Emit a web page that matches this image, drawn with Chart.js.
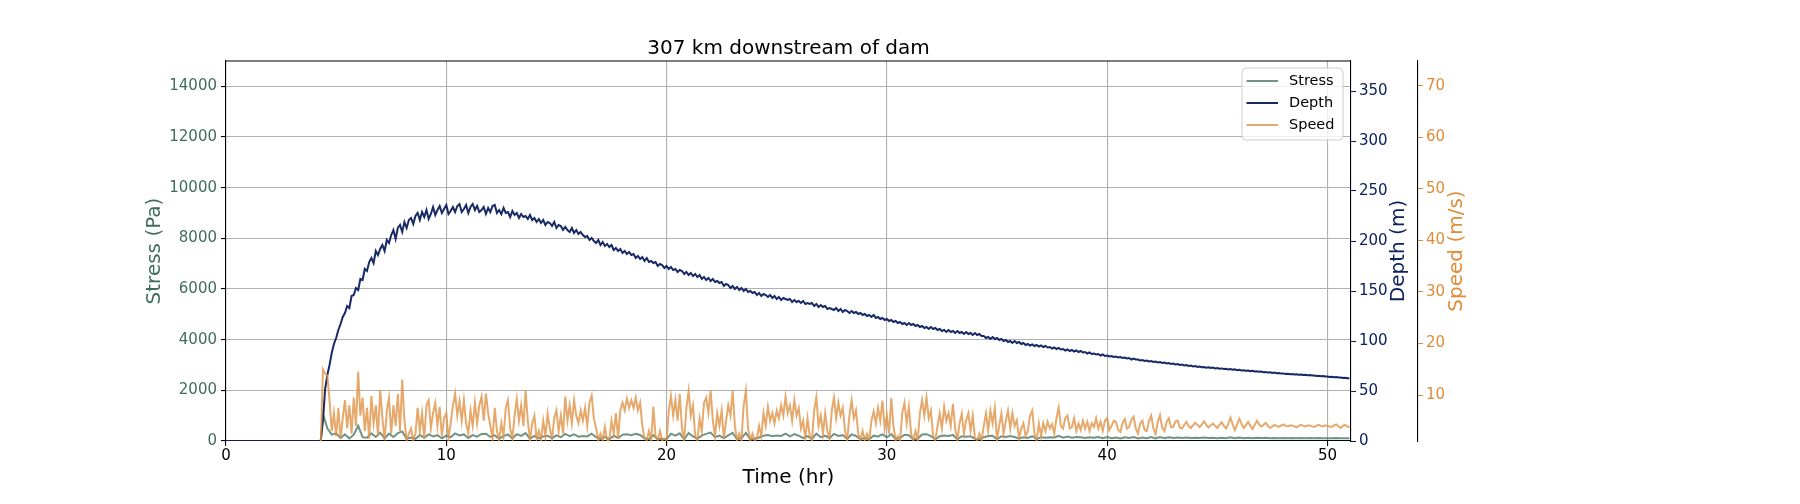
<!DOCTYPE html>
<html>
<head>
<meta charset="utf-8">
<title>307 km downstream of dam</title>
<script src="https://cdn.jsdelivr.net/npm/chart.js@4.4.1/dist/chart.umd.min.js"></script>
<style>
  html, body { margin: 0; padding: 0; background: #fff; }
  #wrap { width: 1800px; height: 504px; }
</style>
</head>
<body>
<div id="wrap"><canvas id="chart" width="1800" height="504"></canvas></div>
<script>
// sample times (hr) for depth and speed
const hours = [
  0, 4.3,
  4.4, 4.5, 4.6, 4.7, 4.8, 4.9, 5.0, 5.1, 5.2, 5.3,
  5.4, 5.5, 5.6, 5.7, 5.8, 5.9, 6.0, 6.1, 6.2, 6.3,
  6.4, 6.5, 6.6, 6.7, 6.8, 6.9, 7.0, 7.1, 7.2, 7.3,
  7.4, 7.5, 7.6, 7.7, 7.8, 7.9, 8.0, 8.1, 8.2, 8.3,
  8.4, 8.5, 8.6, 8.7, 8.8, 8.9, 9.0, 9.1, 9.2, 9.3,
  9.4, 9.5, 9.6, 9.7, 9.8, 9.9, 10.0, 10.1, 10.2, 10.3,
  10.4, 10.5, 10.6, 10.7, 10.8, 10.9, 11.0, 11.1, 11.2, 11.3,
  11.4, 11.5, 11.6, 11.7, 11.8, 11.9, 12.0, 12.1, 12.2, 12.3,
  12.4, 12.5, 12.6, 12.7, 12.8, 12.9, 13.0, 13.1, 13.2, 13.3,
  13.4, 13.5, 13.6, 13.7, 13.8, 13.9, 14.0, 14.1, 14.2, 14.3,
  14.4, 14.5, 14.6, 14.7, 14.8, 14.9, 15.0, 15.1, 15.2, 15.3,
  15.4, 15.5, 15.6, 15.7, 15.8, 15.9, 16.0, 16.1, 16.2, 16.3,
  16.4, 16.5, 16.6, 16.7, 16.8, 16.9, 17.0, 17.1, 17.2, 17.3,
  17.4, 17.5, 17.6, 17.7, 17.8, 17.9, 18.0, 18.1, 18.2, 18.3,
  18.4, 18.5, 18.6, 18.7, 18.8, 18.9, 19.0, 19.1, 19.2, 19.3,
  19.4, 19.5, 19.6, 19.7, 19.8, 19.9, 20.0, 20.1, 20.2, 20.3,
  20.4, 20.5, 20.6, 20.7, 20.8, 20.9, 21.0, 21.1, 21.2, 21.3,
  21.4, 21.5, 21.6, 21.7, 21.8, 21.9, 22.0, 22.1, 22.2, 22.3,
  22.4, 22.5, 22.6, 22.7, 22.8, 22.9, 23.0, 23.1, 23.2, 23.3,
  23.4, 23.5, 23.6, 23.7, 23.8, 23.9, 24.0, 24.1, 24.2, 24.3,
  24.4, 24.5, 24.6, 24.7, 24.8, 24.9, 25.0, 25.1, 25.2, 25.3,
  25.4, 25.5, 25.6, 25.7, 25.8, 25.9, 26.0, 26.1, 26.2, 26.3,
  26.4, 26.5, 26.6, 26.7, 26.8, 26.9, 27.0, 27.1, 27.2, 27.3,
  27.4, 27.5, 27.6, 27.7, 27.8, 27.9, 28.0, 28.1, 28.2, 28.3,
  28.4, 28.5, 28.6, 28.7, 28.8, 28.9, 29.0, 29.1, 29.2, 29.3,
  29.4, 29.5, 29.6, 29.7, 29.8, 29.9, 30.0, 30.1, 30.2, 30.3,
  30.4, 30.5, 30.6, 30.7, 30.8, 30.9, 31.0, 31.1, 31.2, 31.3,
  31.4, 31.5, 31.6, 31.7, 31.8, 31.9, 32.0, 32.1, 32.2, 32.3,
  32.4, 32.5, 32.6, 32.7, 32.8, 32.9, 33.0, 33.1, 33.2, 33.3,
  33.4, 33.5, 33.6, 33.7, 33.8, 33.9, 34.0, 34.1, 34.2, 34.3,
  34.4, 34.5, 34.6, 34.7, 34.8, 34.9, 35.0, 35.1, 35.2, 35.3,
  35.4, 35.5, 35.6, 35.7, 35.8, 35.9, 36.0, 36.1, 36.2, 36.3,
  36.4, 36.5, 36.6, 36.7, 36.8, 36.9, 37.0, 37.1, 37.2, 37.3,
  37.4, 37.5, 37.6, 37.7, 37.8, 37.9, 38.0, 38.1, 38.2, 38.3,
  38.4, 38.5, 38.6, 38.7, 38.8, 38.9, 39.0, 39.1, 39.2, 39.3,
  39.4, 39.5, 39.6, 39.7, 39.8, 39.9, 40.0, 40.1, 40.2, 40.3,
  40.4, 40.5, 40.6, 40.7, 40.8, 40.9, 41.0, 41.1, 41.2, 41.3,
  41.4, 41.5, 41.6, 41.7, 41.8, 41.9, 42.0, 42.1, 42.2, 42.3,
  42.4, 42.5, 42.6, 42.7, 42.8, 42.9, 43.0, 43.1, 43.2, 43.3,
  43.4, 43.5, 43.6, 43.7, 43.8, 43.9, 44.0, 44.1, 44.2, 44.3,
  44.4, 44.5, 44.6, 44.7, 44.8, 44.9, 45.0, 45.1, 45.2, 45.3,
  45.4, 45.5, 45.6, 45.7, 45.8, 45.9, 46.0, 46.1, 46.2, 46.3,
  46.4, 46.5, 46.6, 46.7, 46.8, 46.9, 47.0, 47.1, 47.2, 47.3,
  47.4, 47.5, 47.6, 47.7, 47.8, 47.9, 48.0, 48.1, 48.2, 48.3,
  48.4, 48.5, 48.6, 48.7, 48.8, 48.9, 49.0, 49.1, 49.2, 49.3,
  49.4, 49.5, 49.6, 49.7, 49.8, 49.9, 50.0, 50.1, 50.2, 50.3,
  50.4, 50.5, 50.6, 50.7, 50.8, 50.9, 51.0
];

// flow depth (m)
const depthM = [
  0, 0,
  20, 52, 66, 76, 88, 97, 103, 111, 117, 124,
  128, 135, 133, 145, 146, 153, 151, 162, 161, 172,
  170, 179, 183, 178, 190, 186, 192, 196, 190, 201,
  198, 206, 211, 202, 213, 216, 209, 219, 213, 221,
  223, 217, 225, 228, 221, 229, 224, 231, 222, 227,
  234, 226, 231, 235, 228, 232, 236, 227, 230, 234,
  229, 235, 237, 229, 232, 236, 228, 234, 237, 231,
  235, 229, 231, 234, 227, 233, 229, 235, 236, 228,
  231, 227, 233, 228, 229, 224, 230, 226, 228, 223,
  227, 224, 225, 222, 226, 221, 223, 219, 222, 218,
  221, 216, 219, 218, 215, 219, 213, 216, 215, 211,
  214, 211, 209, 213, 208, 211, 207, 209, 206, 204,
  205, 201, 203, 200, 198, 201, 196, 199, 195, 197,
  194, 196, 191, 193, 190, 192, 188, 190, 187, 189,
  186, 187, 183, 185, 182, 184, 180, 183, 179, 180,
  178, 179, 175, 177, 176, 173, 175, 172, 174, 171,
  172, 169, 171, 170, 167, 169, 166, 168, 165, 167,
  164, 166, 162, 164, 161, 163, 160, 162, 159, 160,
  158, 159, 155, 157, 156, 153, 155, 152, 154, 151,
  153, 150, 152, 149, 150, 148, 149, 146, 148, 145,
  147, 146, 144, 146, 143, 145, 142, 144, 141, 143,
  142, 141, 142, 139, 141, 139, 140, 138, 140, 137,
  138, 137, 138, 135, 137, 134, 136, 134, 135, 132,
  133, 132, 131, 133, 130, 132, 129, 131, 130, 128,
  130, 128, 129, 127, 128, 126, 127, 125, 126, 124,
  126, 123, 124, 122, 123, 121, 122, 120, 121, 119,
  120, 118, 119, 117, 118, 116, 118, 116, 117, 115,
  116, 114, 115, 113, 114, 112, 114, 112, 113, 111,
  112, 110, 111, 109, 111, 109, 110, 108, 110, 108,
  109, 107, 109, 107, 108, 106, 108, 106, 107, 105,
  105, 103, 104, 102, 104, 102, 103, 101, 102, 100,
  101, 99, 100, 98, 100, 98, 99, 97, 98, 96,
  97, 95.5, 96.5, 95, 96, 94.5, 95.5, 94, 95, 93.5,
  94, 92.5, 93.5, 92, 93, 91.5, 92, 90.5, 91.5, 90,
  91, 89.5, 90.5, 89, 90, 88.5, 89, 87.5, 88.5, 87,
  87.5, 86.5, 87, 85.5, 86.5, 85, 85.5, 84.5, 85, 84,
  84.5, 83.5, 84, 83, 83.5, 82.5, 83, 81.5, 82.5, 81.5,
  81.5, 80.5, 81, 80, 80.5, 79.5, 80, 79, 79.5, 78.5,
  79, 78, 78.5, 77.5, 78, 77, 77.5, 76.5, 77, 76,
  76.5, 75.5, 76, 75, 75.5, 74.5, 75, 74, 74.5, 73.8,
  74, 73.3, 73.8, 73, 73.4, 72.6, 73, 72.3, 72.6, 72,
  72.3, 71.6, 72, 71.2, 71.6, 70.8, 71.2, 70.5, 70.8, 70.2,
  70.5, 69.8, 70.2, 69.5, 69.8, 69.2, 69.4, 68.8, 69, 68.4,
  68.7, 68.1, 68.4, 67.8, 68, 67.4, 67.6, 67, 67.3, 66.8,
  67, 66.5, 66.8, 66.2, 66.5, 66, 66.2, 65.7, 65.9, 65.4,
  65.6, 65.1, 65.3, 64.8, 65, 64.5, 64.6, 64.1, 64.3, 63.8,
  64, 63.5, 63.6, 63.1, 63.2, 62.7, 62.8
];

// flow speed (m/s)
const speedMs = [
  0, 0,
  15.0, 14.2, 13.8, 9.0, 3.0, 6.5, 2.0, 7.5, 1.5, 5.5,
  9.0, 3.5, 8.0, 2.5, 9.5, 4.0, 14.5, 6.0, 9.5, 3.0,
  7.5, 1.5, 9.8, 4.5, 8.0, 2.0, 11.0, 5.5, 1.2, 7.0,
  9.5, 2.5, 8.0, 4.0, 10.2, 3.0, 13.0, 5.0, 1.2, 2.5,
  3.5, 1.2, 2.5, 7.5, 3.0, 6.5, 1.5, 8.0, 9.0, 3.5,
  6.5, 8.5, 4.0, 7.7, 2.0, 5.5, 6.5, 1.5, 4.5, 8.0,
  10.3, 6.0, 8.8, 5.0, 9.0, 4.5, 2.5, 7.0, 4.0, 8.5,
  4.5, 8.0, 9.7, 5.0, 10.3, 6.5, 4.0, 1.5, 7.5, 3.0,
  1.2, 4.5, 2.0, 7.5, 9.0, 3.5, 1.5, 6.0, 9.2, 5.0,
  8.0, 4.0, 10.8, 5.0, 1.2, 4.5, 6.0, 1.5, 3.0, 1.2,
  5.0, 2.0, 6.4, 3.5, 1.5, 5.5, 7.0, 3.0, 6.0, 2.5,
  9.7, 5.0, 8.0, 4.5, 9.0, 6.0, 4.5, 7.0, 5.0, 7.5,
  4.0, 8.5, 9.9, 5.5, 3.5, 1.2, 2.5, 1.2, 3.8, 1.2,
  1.2, 5.0, 2.5, 6.5, 1.5, 7.0, 8.5, 7.0, 9.3, 7.5,
  9.0, 7.5, 9.5, 7.0, 8.5, 4.0, 1.5, 1.2, 3.0, 1.2,
  7.7, 2.0, 1.2, 3.0, 1.2, 1.5, 1.2, 7.0, 9.8, 6.0,
  9.0, 5.0, 10.2, 3.5, 1.2, 7.5, 10.8, 6.0, 8.0, 2.0,
  1.2, 5.5, 3.0, 8.5, 9.5, 6.5, 10.8, 5.0, 2.0, 6.5,
  4.0, 7.0, 1.5, 5.0, 8.0, 6.0, 10.8, 4.0, 1.2, 2.5,
  1.2, 8.0, 10.8, 3.5, 1.2, 2.5, 1.2, 1.5, 4.0, 2.0,
  6.5, 4.0, 7.7, 5.0, 6.5, 4.5, 7.0, 5.5, 8.0, 6.0,
  9.7, 6.5, 8.0, 5.0, 9.0, 6.0, 7.5, 3.5, 5.0, 1.5,
  5.5, 2.0, 1.2, 7.0, 9.6, 4.0, 6.0, 2.5, 6.5, 3.0,
  1.5, 7.0, 9.5, 5.5, 8.5, 6.0, 7.5, 3.0, 1.2, 6.0,
  9.0, 5.5, 7.0, 2.5, 1.2, 3.0, 1.2, 2.5, 1.2, 5.0,
  6.8, 4.5, 7.5, 5.0, 8.9, 3.5, 6.0, 2.5, 9.4, 4.0,
  1.2, 2.0, 1.2, 6.5, 8.5, 4.5, 7.7, 2.5, 1.2, 3.0,
  1.2, 6.5, 9.0, 6.0, 9.5, 5.5, 7.0, 2.0, 1.2, 4.0,
  6.4, 3.5, 7.7, 5.0, 6.5, 4.0, 8.3, 3.5, 1.2, 4.5,
  6.4, 2.5, 5.1, 6.5, 3.0, 6.0, 1.5, 1.2, 2.5, 1.2,
  4.0, 6.5, 3.0, 7.0, 4.5, 7.5, 1.2, 4.0, 6.4, 2.5,
  5.0, 7.0, 3.5, 6.5, 4.0, 5.1, 1.5, 3.5, 4.5, 2.0,
  3.0, 6.0, 7.0, 2.5, 1.2, 4.5, 2.0, 4.5, 3.0, 4.8,
  3.5, 4.3, 2.5, 5.5, 7.5, 4.0, 3.5, 5.5, 6.0, 3.5,
  3.8, 5.5, 3.0, 4.5, 3.2, 5.0, 3.5, 4.8, 3.0, 4.5,
  3.8, 5.5, 3.5, 4.8, 3.0, 5.0, 5.5, 3.2, 4.0, 5.0,
  4.8, 3.2, 2.8, 4.6, 5.3, 3.5, 3.8, 5.2, 5.8, 3.5,
  2.5, 4.5, 5.0, 3.2, 3.0, 5.0, 6.0, 3.5, 2.4, 4.8,
  6.1, 3.6, 3.0, 4.8, 5.5, 3.8, 3.8, 4.9, 5.0, 3.7,
  3.5, 4.2, 4.8, 4.0, 3.6, 4.1, 4.6, 4.2, 3.8, 4.3,
  4.9, 4.2, 3.7, 4.1, 4.5, 4.0, 3.6, 4.2, 4.7, 4.0,
  3.5, 4.4, 5.6, 4.3, 3.2, 4.3, 5.4, 4.4, 3.6, 4.1,
  4.8, 4.0, 3.4, 4.2, 5.0, 4.3, 3.9, 4.2, 4.6, 4.0,
  3.6, 3.9, 4.2, 4.0, 3.8, 4.1, 4.3, 4.0, 3.9, 4.1,
  4.1, 3.9, 3.7, 4.0, 4.2, 4.0, 3.9, 4.1, 4.1, 3.9,
  3.8, 4.0, 4.2, 4.0, 3.9, 4.1, 4.0, 3.9, 3.8, 4.1,
  4.3, 3.9, 3.6, 4.0, 4.2, 3.9, 3.7
];

// sample times (hr) for bed shear stress
const stressHours = [
  0, 4.3,
  4.4, 4.6, 4.8, 5.0, 5.2, 5.4, 5.6, 5.8, 6.0, 6.2,
  6.4, 6.6, 6.8, 7.0, 7.2, 7.4, 7.6, 7.8, 8.0, 8.2,
  8.4, 8.6, 8.8, 9.0, 9.2, 9.4, 9.6, 9.8, 10.0, 10.2,
  10.4, 10.6, 10.8, 11.0, 11.2, 11.4, 11.6, 11.8, 12.0, 12.2,
  12.4, 12.6, 12.8, 13.0, 13.2, 13.4, 13.6, 13.8, 14.0, 14.2,
  14.4, 14.6, 14.8, 15.0, 15.2, 15.4, 15.6, 15.8, 16.0, 16.2,
  16.4, 16.6, 16.8, 17.0, 17.2, 17.4, 17.6, 17.8, 18.0, 18.2,
  18.4, 18.6, 18.8, 19.0, 19.2, 19.4, 19.6, 19.8, 20.0, 20.2,
  20.4, 20.6, 20.8, 21.0, 21.2, 21.4, 21.6, 21.8, 22.0, 22.2,
  22.4, 22.6, 22.8, 23.0, 23.2, 23.4, 23.6, 23.8, 24.0, 24.2,
  24.4, 24.6, 24.8, 25.0, 25.2, 25.4, 25.6, 25.8, 26.0, 26.2,
  26.4, 26.6, 26.8, 27.0, 27.2, 27.4, 27.6, 27.8, 28.0, 28.2,
  28.4, 28.6, 28.8, 29.0, 29.2, 29.4, 29.6, 29.8, 30.0, 30.2,
  30.4, 30.6, 30.8, 31.0, 31.2, 31.4, 31.6, 31.8, 32.0, 32.2,
  32.4, 32.6, 32.8, 33.0, 33.2, 33.4, 33.6, 33.8, 34.0, 34.2,
  34.4, 34.6, 34.8, 35.0, 35.2, 35.4, 35.6, 35.8, 36.0, 36.2,
  36.4, 36.6, 36.8, 37.0, 37.2, 37.4, 37.6, 37.8, 38.0, 38.2,
  38.4, 38.6, 38.8, 39.0, 39.2, 39.4, 39.6, 39.8, 40.0, 40.2,
  40.4, 40.6, 40.8, 41.0, 41.2, 41.4, 41.6, 41.8, 42.0, 42.2,
  42.4, 42.6, 42.8, 43.0, 43.2, 43.4, 43.6, 43.8, 44.0, 44.2,
  44.4, 44.6, 44.8, 45.0, 45.2, 45.4, 45.6, 45.8, 46.0, 46.2,
  46.4, 46.6, 46.8, 47.0, 47.2, 47.4, 47.6, 47.8, 48.0, 48.2,
  48.4, 48.6, 48.8, 49.0, 49.2, 49.4, 49.6, 49.8, 50.0, 50.2,
  50.4, 50.6, 50.8, 51.0
];

// bed shear stress (Pa)
const stressPa = [
  0, 0,
  1080, 500, 250, 300, 120, 260, 100, 250, 600, 150,
  130, 300, 160, 330, 100, 290, 160, 310, 380, 90,
  140, 80, 240, 130, 260, 180, 230, 110, 210, 150,
  300, 220, 260, 120, 230, 170, 280, 290, 160, 220,
  90, 190, 260, 100, 270, 200, 310, 90, 200, 100,
  180, 210, 110, 220, 150, 280, 190, 260, 170, 200,
  180, 290, 150, 70, 160, 70, 210, 120, 250, 270,
  230, 280, 240, 110, 70, 230, 70, 90, 70, 290,
  210, 300, 70, 320, 180, 90, 220, 280, 330, 150,
  210, 110, 220, 320, 70, 110, 320, 70, 90, 140,
  210, 240, 190, 220, 200, 290, 180, 270, 210, 110,
  190, 80, 290, 150, 210, 110, 280, 200, 230, 90,
  260, 200, 70, 120, 70, 210, 180, 260, 150, 270,
  70, 120, 250, 230, 70, 90, 260, 270, 190, 70,
  190, 220, 200, 240, 70, 190, 170, 190, 90, 70,
  150, 200, 210, 70, 190, 160, 200, 160, 100, 150,
  120, 190, 70, 150, 130, 150, 140, 200, 130, 180,
  130, 160, 150, 120, 150, 130, 160, 110, 160, 110,
  140, 100, 150, 120, 160, 100, 140, 110, 160, 100,
  160, 110, 150, 120, 140, 115, 135, 115, 130, 120,
  135, 115, 125, 112, 128, 110, 145, 105, 140, 110,
  130, 108, 132, 115, 125, 110, 118, 112, 120, 112,
  115, 108, 116, 110, 114, 108, 115, 110, 112, 108,
  115, 106, 112, 107
];

const timeTicks = [0, 10, 20, 30, 40, 50];
const stressTicks = [0, 2000, 4000, 6000, 8000, 10000, 12000, 14000];
const depthTicks = [0, 50, 100, 150, 200, 250, 300, 350];
const speedTicks = [10, 20, 30, 40, 50, 60, 70];

const FONT = 'DejaVu Sans';
const STRESS_COLOR = '#3f6e58';
const DEPTH_COLOR = '#0d2260';
const SPEED_COLOR = '#e08c38';
const GRID = '#b0b0b0';

Chart.defaults.font.family = FONT;
Chart.defaults.font.size = 15;

const pairs = (times, values) => times.map((t, i) => ({ x: t, y: values[i] }));
const fixTicks = list => scale => { scale.ticks = list.map(v => ({ value: v })); };

// top spine of the axes box
const topSpine = {
  id: 'topSpine',
  afterDraw(chart) {
    const { ctx, chartArea: a } = chart;
    ctx.save();
    ctx.strokeStyle = '#000';
    ctx.lineWidth = 1.1;
    ctx.beginPath();
    ctx.moveTo(a.left, a.top);
    ctx.lineTo(a.right, a.top);
    ctx.stroke();
    ctx.restore();
  }
};

// right-hand axis titles read bottom-to-top like the left one
const sideTitles = {
  id: 'sideTitles',
  afterDraw(chart) {
    const { ctx, chartArea: a, scales } = chart;
    const midY = (a.top + a.bottom) / 2;
    [
      [scales.depth, 47.3, 'Depth (m)', DEPTH_COLOR],
      [scales.speed, 38.7, 'Speed (m/s)', SPEED_COLOR]
    ].forEach(([s, dx, text, color]) => {
      ctx.save();
      ctx.translate(s.left + dx, midY);
      ctx.rotate(-Math.PI / 2);
      ctx.font = '20px "' + FONT + '"';
      ctx.fillStyle = color;
      ctx.textAlign = 'center';
      ctx.textBaseline = 'middle';
      ctx.fillText(text, 0, 0);
      ctx.restore();
    });
  }
};

// legend box inside the upper right corner
const boxLegend = {
  id: 'boxLegend',
  afterDraw(chart) {
    const { ctx, chartArea: a } = chart;
    const w = 101, h = 72;
    const x = a.right - 8 - w, y = a.top + 7;
    ctx.save();
    ctx.beginPath();
    ctx.roundRect(x, y, w, h, 4);
    ctx.fillStyle = 'rgba(255,255,255,0.8)';
    ctx.fill();
    ctx.strokeStyle = '#cccccc';
    ctx.lineWidth = 1;
    ctx.stroke();
    ctx.font = '14.5px "' + FONT + '"';
    ctx.textBaseline = 'middle';
    chart.data.datasets.forEach((ds, i) => {
      const ry = y + 13 + i * 22;
      ctx.strokeStyle = ds.borderColor;
      ctx.lineWidth = ds.borderWidth;
      ctx.beginPath();
      ctx.moveTo(x + 4.5, ry);
      ctx.lineTo(x + 36, ry);
      ctx.stroke();
      ctx.fillStyle = '#000';
      ctx.fillText(ds.label, x + 47, ry);
    });
    ctx.restore();
  }
};

new Chart(document.getElementById('chart'), {
  type: 'line',
  data: {
    datasets: [
      { label: 'Stress', data: pairs(stressHours, stressPa), yAxisID: 'stress', borderColor: 'rgba(63,112,90,0.75)', borderWidth: 2, order: 2 },
      { label: 'Depth', data: pairs(hours, depthM), yAxisID: 'depth', borderColor: 'rgba(11,31,94,0.95)', borderWidth: 2, order: 1 },
      { label: 'Speed', data: pairs(hours, speedMs), yAxisID: 'speed', borderColor: 'rgba(224,148,70,0.8)', borderWidth: 2, order: 0 }
    ]
  },
  options: {
    responsive: false,
    animation: false,
    devicePixelRatio: 1,
    elements: { point: { radius: 0 }, line: { tension: 0 } },
    layout: { padding: { left: 130, right: 302, top: 0, bottom: 14 } },
    plugins: {
      legend: { display: false },
      tooltip: { enabled: false },
      title: {
        display: true,
        text: '307 km downstream of dam',
        color: '#000',
        fullSize: false,
        font: { size: 20, weight: 'normal' },
        padding: { top: 36.5, bottom: 0.5 }
      }
    },
    scales: {
      x: {
        type: 'linear',
        min: 0,
        max: 51.07,
        afterBuildTicks: fixTicks(timeTicks),
        afterFit: s => { s.height = 49; },
        ticks: { color: '#000', padding: 1, maxRotation: 0, callback: v => String(v) },
        grid: { color: GRID, lineWidth: 1.1, tickColor: '#000', tickLength: 5, tickWidth: 1.1 },
        border: { display: true, color: '#000', width: 1.1 },
        title: { display: true, text: 'Time (hr)', color: '#000', font: { size: 20 }, padding: { top: 0, bottom: 0 } }
      },
      stress: {
        type: 'linear',
        position: 'left',
        min: 0,
        max: 15000,
        afterBuildTicks: fixTicks(stressTicks),
        afterFit: s => { s.width = 96; },
        ticks: { color: STRESS_COLOR, padding: 4, callback: v => String(v) },
        grid: { color: GRID, lineWidth: 1.1, tickColor: '#000', tickLength: 5, tickWidth: 1.1 },
        border: { display: true, color: '#000', width: 1.1 },
        title: { display: true, text: 'Stress (Pa)', color: STRESS_COLOR, font: { size: 20 }, padding: { top: 13, bottom: 0 } }
      },
      depth: {
        type: 'linear',
        position: 'right',
        weight: 0,
        min: 0,
        max: 380,
        afterBuildTicks: fixTicks(depthTicks),
        afterFit: s => { s.width = 67; },
        ticks: { color: DEPTH_COLOR, padding: 3, callback: v => String(v) },
        grid: { drawOnChartArea: false, tickColor: DEPTH_COLOR, tickLength: 5, tickWidth: 1.1 },
        border: { display: true, color: '#000', width: 1.1 }
      },
      speed: {
        type: 'linear',
        position: 'right',
        weight: 1,
        min: 1.07,
        max: 74.85,
        afterBuildTicks: fixTicks(speedTicks),
        afterFit: s => { s.width = 80; },
        ticks: { color: SPEED_COLOR, padding: 3, callback: v => String(v) },
        grid: { drawOnChartArea: false, tickColor: SPEED_COLOR, tickLength: 5, tickWidth: 1.1 },
        border: { display: true, color: '#000', width: 1.1 }
      }
    }
  },
  plugins: [topSpine, sideTitles, boxLegend]
});
</script>
</body>
</html>
